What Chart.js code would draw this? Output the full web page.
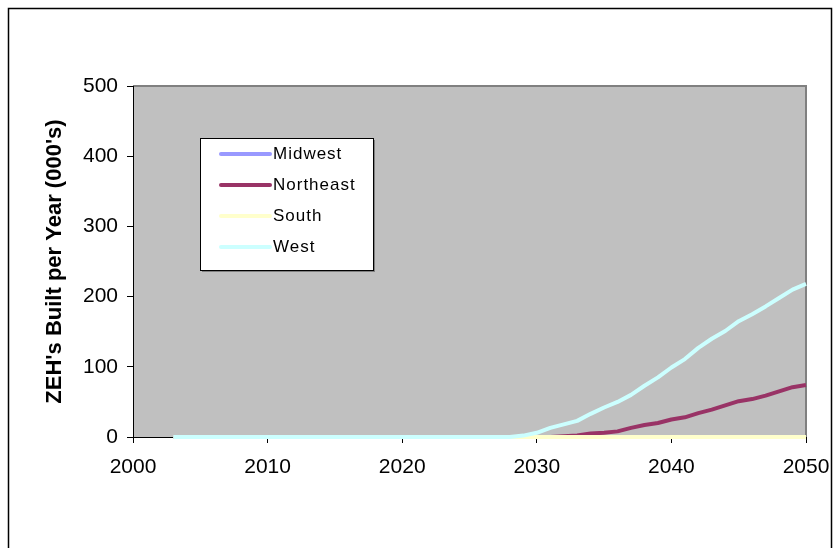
<!DOCTYPE html>
<html>
<head>
<meta charset="utf-8">
<script src="https://cdn.jsdelivr.net/npm/chart.js@4.4.0/dist/chart.umd.min.js"></script>
<style>
  html, body { margin: 0; padding: 0; background: #fff; }
</style>
</head>
<body>
<canvas id="myChart" width="834" height="548"></canvas>
<script>
// years 2003..2050
const years = [2003, 2004, 2005, 2006, 2007, 2008, 2009, 2010, 2011, 2012,
    2013, 2014, 2015, 2016, 2017, 2018, 2019, 2020, 2021, 2022,
    2023, 2024, 2025, 2026, 2027, 2028, 2029, 2030, 2031, 2032,
    2033, 2034, 2035, 2036, 2037, 2038, 2039, 2040, 2041, 2042,
    2043, 2044, 2045, 2046, 2047, 2048, 2049, 2050];

const midwest = [0, 0, 0, 0, 0, 0, 0, 0, 0, 0,
    0, 0, 0, 0, 0, 0, 0, 0, 0, 0,
    0, 0, 0, 0, 0, 0, 0, 0, 0, 0,
    0, 0, 0, 0, 0, 0, 0, 0, 0, 0,
    0, 0, 0, 0, 0, 0, 0, 0];

const northeast = [0, 0, 0, 0, 0, 0, 0, 0, 0, 0,
    0, 0, 0, 0, 0, 0, 0, 0, 0, 0,
    0, 0, 0, 0, 0, 0, 0, 0, 0, 1,
    2, 5, 6, 8, 13, 17, 20, 25, 28, 34,
    39, 45, 51, 54, 59, 65, 71, 74];

const south = [0, 0, 0, 0, 0, 0, 0, 0, 0, 0,
    0, 0, 0, 0, 0, 0, 0, 0, 0, 0,
    0, 0, 0, 0, 0, 0, 0, 0, 0, 0,
    0, 0, 0, 0, 0, 0, 0, 0, 0, 0,
    0, 0, 0, 0, 0, 0, 0, 0];

const west = [0, 0, 0, 0, 0, 0, 0, 0, 0, 0,
    0, 0, 0, 0, 0, 0, 0, 0, 0, 0,
    0, 0, 0, 0, 0, 0, 2, 6, 13, 18,
    23, 33, 42, 50, 60, 73, 85, 99, 111, 127,
    140, 151, 165, 175, 186, 198, 210, 218];

const seriesNames = ['Midwest', 'Northeast', 'South', 'West'];
const seriesColors = ['#9999FF', '#993366', '#FFFFCC', '#CCFFFF'];
const yTitle = "ZEH's Built per Year (000's)";

const FONT = "'Liberation Sans', Arial, sans-serif";

function toPoints(values) {
    return years.map(function (yr, i) { return { x: yr, y: values[i] }; });
}

// frame + grey plot area
const backdrop = {
    id: 'backdrop',
    beforeDraw: function (chart) {
        const ctx = chart.ctx;
        const a = chart.chartArea;
        ctx.save();
        ctx.fillStyle = '#ffffff';
        ctx.fillRect(0, 0, chart.width, chart.height);
        ctx.strokeStyle = '#000000';
        ctx.lineWidth = 1.5;
        ctx.strokeRect(8.5, 8.5, 823, 700);
        ctx.fillStyle = '#C0C0C0';
        ctx.fillRect(a.left, a.top, a.right - a.left, a.bottom - a.top);
        ctx.strokeStyle = '#808080';
        ctx.lineWidth = 2;
        ctx.beginPath();
        ctx.moveTo(a.left, a.top);
        ctx.lineTo(a.right, a.top);
        ctx.lineTo(a.right, a.bottom);
        ctx.stroke();
        ctx.restore();
    }
};

// legend box inside the plot
const boxLegend = {
    id: 'boxLegend',
    afterDatasetsDraw: function (chart) {
        const ctx = chart.ctx;
        const bx = 200, by = 138, bw = 173, bh = 132;
        ctx.save();
        ctx.fillStyle = '#808080';
        ctx.fillRect(bx + 2, by + 2, bw, bh);
        ctx.fillStyle = '#ffffff';
        ctx.fillRect(bx, by, bw, bh);
        ctx.strokeStyle = '#000000';
        ctx.lineWidth = 1;
        ctx.strokeRect(bx + 0.5, by + 0.5, bw, bh);
        ctx.font = '17px ' + FONT;
        ctx.letterSpacing = '1px';
        ctx.textBaseline = 'middle';
        ctx.fillStyle = '#000000';
        chart.data.datasets.forEach(function (ds, i) {
            const y = 154 + i * 31;
            ctx.strokeStyle = ds.borderColor;
            ctx.lineWidth = 4;
            ctx.lineCap = 'round';
            ctx.beginPath();
            ctx.moveTo(221, y);
            ctx.lineTo(270, y);
            ctx.stroke();
            ctx.fillText(ds.label, 273, y);
        });
        ctx.restore();
    }
};

const ctx = document.getElementById('myChart').getContext('2d');

new Chart(ctx, {
    type: 'line',
    data: {
        datasets: [
            { label: seriesNames[0], data: toPoints(midwest), borderColor: seriesColors[0], order: 3 },
            { label: seriesNames[1], data: toPoints(northeast), borderColor: seriesColors[1], order: 2 },
            { label: seriesNames[2], data: toPoints(south), borderColor: seriesColors[2], order: 1 },
            { label: seriesNames[3], data: toPoints(west), borderColor: seriesColors[3], order: 0 }
        ]
    },
    options: {
        responsive: false,
        animation: false,
        layout: { padding: { top: 86, right: 28, left: 0, bottom: 0 } },
        elements: {
            line: { borderWidth: 4, tension: 0, fill: false, borderJoinStyle: 'round' },
            point: { radius: 0, hoverRadius: 0 }
        },
        datasets: { line: { clip: false } },
        plugins: {
            legend: { display: false },
            tooltip: { enabled: false }
        },
        scales: {
            x: {
                type: 'linear',
                min: 2000,
                max: 2050,
                afterFit: function (s) {
                    s.height = 111;
                    s.paddingLeft = 0;
                    s.paddingRight = 0;
                },
                border: { color: '#000000', width: 1 },
                grid: { drawOnChartArea: false, tickLength: 6, color: '#000000' },
                ticks: {
                    stepSize: 10,
                    padding: 12,
                    color: '#000000',
                    font: { family: FONT, size: 21 },
                    maxRotation: 0,
                    callback: function (v) { return String(v); }
                }
            },
            y: {
                min: 0,
                max: 500,
                afterFit: function (s) {
                    s.width = 133;
                    s.paddingTop = 0;
                    s.paddingBottom = 0;
                },
                border: { color: '#000000', width: 1 },
                grid: { drawOnChartArea: false, tickLength: 6, color: '#000000' },
                ticks: {
                    stepSize: 100,
                    padding: 9,
                    color: '#000000',
                    font: { family: FONT, size: 21 }
                },
                title: {
                    display: true,
                    text: yTitle,
                    color: '#000000',
                    font: { family: FONT, size: 22, weight: 'bold' },
                    padding: { top: 42, bottom: 0 }
                }
            }
        }
    },
    plugins: [backdrop, boxLegend]
});
</script>
</body>
</html>
